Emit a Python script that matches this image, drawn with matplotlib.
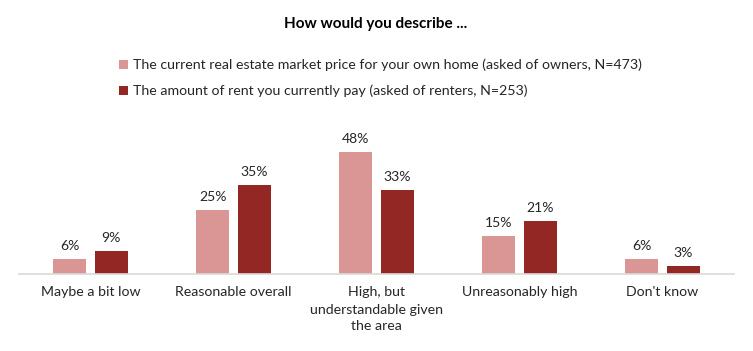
import matplotlib.pyplot as plt
import numpy as np

categories = ["Maybe a bit low", "Reasonable overall", "High, but\nunderstandable given\nthe area",
              "Unreasonably high", "Don't know"]
owners = [6, 25, 48, 15, 6]
renters = [9, 35, 33, 21, 3]
series_labels = ["The current real estate market price for your own home (asked of owners, N=473)",
                 "The amount of rent you currently pay (asked of renters, N=253)"]
colors = ["#D99694", "#922723"]

plt.rcParams['font.family'] = ['Lato', 'DejaVu Sans']

fig = plt.figure(figsize=(7.53, 3.51), dpi=100)
W, H = 753, 351
ax = fig.add_axes([19 / W, 1 - 274 / H, 715 / W, 140 / H])

x = np.arange(len(categories))
bw = 0.23
off = 0.145
b1 = ax.bar(x - off, owners, bw, color=colors[0], label=series_labels[0])
b2 = ax.bar(x + off, renters, bw, color=colors[1], label=series_labels[1])
for bars, vals in ((b1, owners), (b2, renters)):
    for r, v in zip(bars, vals):
        ax.annotate(f"{v}%", (r.get_x() + r.get_width() / 2, v), xytext=(0, 5),
                    textcoords="offset points", ha="center", va="bottom",
                    fontsize=10.1, color="#262626")

ax.set_xlim(-0.5, len(categories) - 0.5)
ax.set_ylim(0, 55)
ax.set_xticks(x)
ax.set_xticklabels(categories, fontsize=10.2, color="#262626", linespacing=1.5)
ax.tick_params(axis='x', length=0, pad=9)
ax.set_yticks([])
for s in ("top", "right", "left"):
    ax.spines[s].set_visible(False)
ax.spines["bottom"].set_color("#D9D9D9")
ax.spines["bottom"].set_linewidth(1.2)

fig.text(376 / W, 1 - 24 / H, "How would you describe ...", ha="center", va="center",
         fontsize=11, fontweight="bold", color="#000000")

fig.legend(handles=[b1, b2], loc="upper left", bbox_to_anchor=(106 / W, 1 - 46 / H),
           frameon=False, fontsize=10.2, handlelength=0.65, handleheight=0.65,
           handletextpad=0.35, labelspacing=0.95, labelcolor="#262626")

fig.savefig("out.png", dpi=100)
